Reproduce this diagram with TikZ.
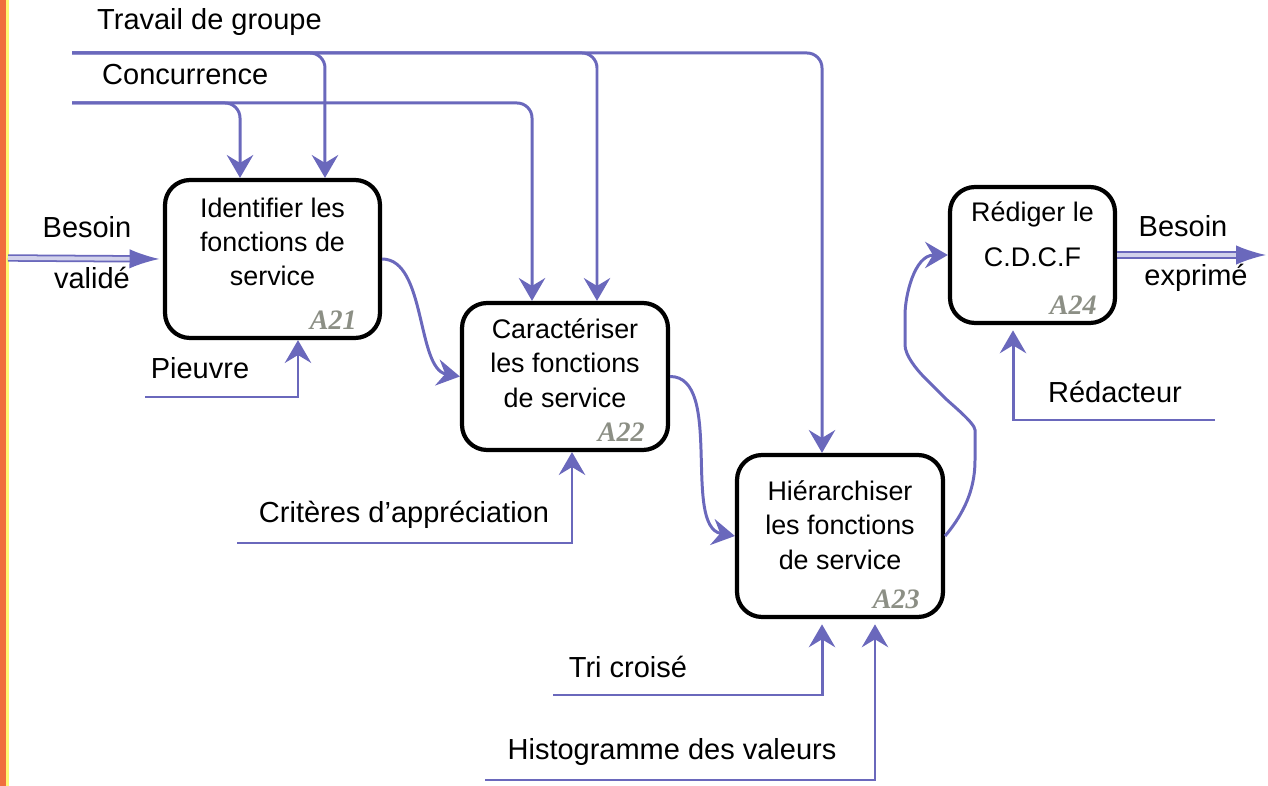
\documentclass[tikz,border=0pt]{standalone}
\usepackage{fontspec}
\setmainfont{Liberation Sans}
\newfontfamily\codefont{Liberation Serif}
\usepackage{tikz}
\usetikzlibrary{arrows.meta,positioning,calc}
\definecolor{flowblu}{HTML}{6A68BC}
\definecolor{codegry}{rgb}{0.55,0.56,0.52}
\definecolor{edgeorg}{rgb}{0.94,0.43,0.24}

\tikzset{
  procbox/.style={draw, line width=2.4pt, rounded corners=0.5cm, minimum width=4.12cm},
  boxtext/.style={align=center, font=\fontsize{15.3}{19.5}\selectfont},
  lbl/.style={font=\fontsize{16.5}{20}\selectfont},
  acode/.style={anchor=south east, font=\codefont\bfseries\itshape\fontsize{16}{16}\selectfont, text=codegry, inner sep=0pt},
  flow/.style={draw=flowblu, line width=1.7pt, rounded corners=0.3cm, -{Stealth[length=13pt, width=15pt, inset=4.5pt]}},
  dblflow/.style={draw=flowblu, line width=1pt, double=flowblu!30, double distance=2.2pt, -{Latex[length=17pt, width=11pt]}}
}

\begin{document}
\begin{tikzpicture}[x=0.02cm, y=-0.02cm]
		\useasboundingbox (0,0) rectangle (1268,786);
		\fill[edgeorg] (0,0) rectangle (6,786);
		\fill[yellow!55] (6,0) rectangle (9,786);
		
		% boites
		\node[procbox, minimum width=4.3cm, minimum height=3.16cm] (A21) at (272.5,259) {};
		\node[boxtext] (A21t) at ([yshift=0.34cm]A21.center) {Identifier les\\fonctions de\\service};
		\node[acode] (A21c) at ([shift={(-0.5cm,0.2cm)}]A21.south east) {A21};
		
		\node[procbox, minimum height=2.94cm] (A22) at (565,376.5) {};
		\node[boxtext] (A22t) at ([yshift=0.27cm]A22.center) {Caractériser\\les fonctions\\de service};
		\node[acode] (A22c) at ([shift={(-0.5cm,0.2cm)}]A22.south east) {A22};
		
		\node[procbox, minimum height=3.24cm] (A23) at (840,536) {};
		\node[boxtext] (A23t) at ([yshift=0.22cm]A23.center) {Hiérarchiser\\les fonctions\\de service};
		\node[acode] (A23c) at ([shift={(-0.5cm,0.2cm)}]A23.south east) {A23};
		
		\node[procbox, minimum width=3.3cm, minimum height=2.72cm] (A24) at (1032.5,255) {};
		\node[boxtext] (A24t) at ([yshift=0.41cm]A24.center) {Rédiger le\\[6pt]C.D.C.F};
		\node[acode] (A24c) at ([shift={(-0.4cm,0.2cm)}]A24.south east) {A24};
		
		% textes
		\node[lbl, anchor=west] (tgl) at (91,22) {Travail de groupe};
		\node[lbl, anchor=west] (ccl) at (96,75) {Concurrence};
		\node[lbl] (bv1) at (87,227) {Besoin};
		\node[lbl] (bv2) at (92,278) {validé};
		\node[lbl] (pvl) at (200,368) {Pieuvre};
		\node[lbl] (cal) at (404,515) {Critères d’appréciation};
		\node[lbl] (tcl) at (628,667) {Tri croisé};
		\node[lbl] (hvl) at (672,752) {Histogramme des valeurs};
		\node[lbl] (be1) at (1183,226) {Besoin};
		\node[lbl] (be2) at (1196,278) {exprimé};
		\node[lbl] (rdl) at (1115,392) {Rédacteur};
		
		% extremites libres
		\coordinate (tg) at (72,53);
		\coordinate (cc) at (72,103);
		\coordinate (pv) at (145,397);
		\coordinate (ca) at (237,543);
		\coordinate (tc) at (553,695);
		\coordinate (hv) at (485,780);
		\coordinate (rd) at (1215,420);
		\coordinate (bvin) at (8,258);
		\coordinate (beout) at (1266,255);
		
		% controles
		\draw[flow] (tg) -| ([xshift=-0.36cm]A23.north);
		\draw[flow] (tg) -| ([xshift=1.05cm]A21.north);
		\draw[flow] (tg) -| ([xshift=0.64cm]A22.north);
		\draw[flow] (cc) -| ([xshift=-0.65cm]A21.north);
		\draw[flow] (cc) -| ([xshift=-0.66cm]A22.north);
		
		% mecanismes
		\draw[flow, sharp corners] (pv) -| ([xshift=0.51cm]A21.south);
		\draw[flow, sharp corners] (ca) -| ([xshift=0.14cm]A22.south);
		\draw[flow, sharp corners, shorten >=3pt] (tc) -| ([xshift=-0.36cm]A23.south);
		\draw[flow, sharp corners, shorten >=3pt] (hv) -| ([xshift=0.7cm]A23.south);
		\draw[flow, sharp corners, shorten >=3pt] (rd) -| ([xshift=-0.39cm]A24.south);
		
		% entrees / sorties
		\draw[dblflow] (bvin) -- ([xshift=-2pt]A21.west);
		\draw[dblflow] (A24.east) -- (beout);
		\draw[flow] (A21.east) to[out=0, in=170, looseness=0.8] (A22.west);
		\draw[flow] (A22.east) to[out=0, in=170, looseness=0.8] (A23.west);
		\draw[flow] (A23.east) to[out=50, in=-90] (975,445) to[out=90, in=-45, looseness=0.8] (935,388)
		    to[out=135, in=-90] (905,330) to[out=90, in=180] (A24.west);
		
	\end{tikzpicture}
\end{document}
